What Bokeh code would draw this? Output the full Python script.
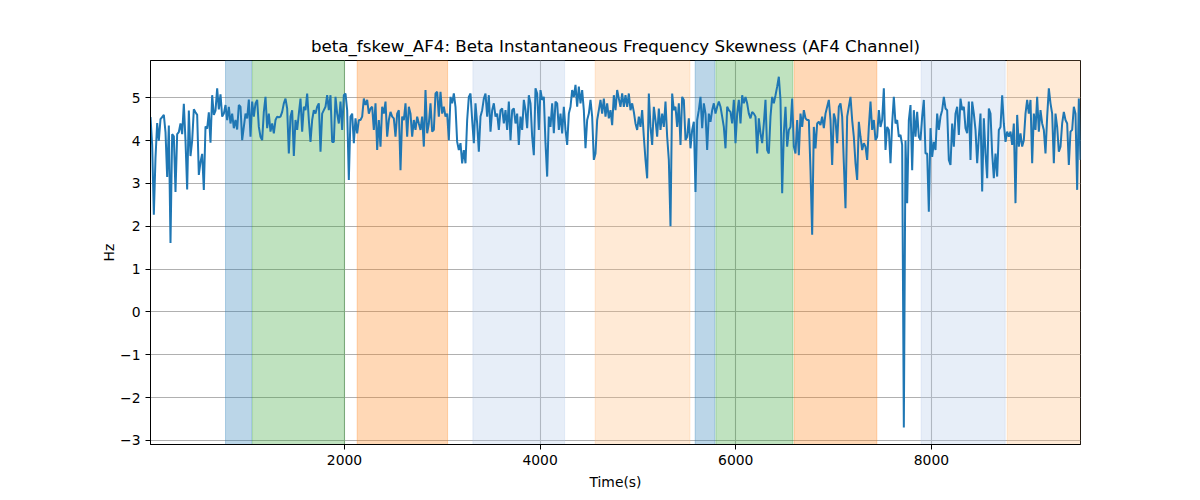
import numpy as np
from bokeh.plotting import figure
from bokeh.models import BoxAnnotation, CustomJSTickFormatter, FixedTicker, Range1d
from bokeh.embed import file_html
from bokeh.resources import INLINE

# valores, por tramos
fskew_a = [4.55, 3.9, 2.27, 3.6, 4.41, 4.0, 4.5, 4.55, 4.6, 4.2, 3.15, 4.35, 1.61, 4.15, 4.1,
           2.8, 4.15, 4.2, 4.4, 4.15, 4.86, 4.0, 2.86, 4.7, 3.64, 4.0, 4.73, 4.66, 4.6, 3.2,
           3.5, 3.69, 2.85, 4.33, 4.28, 4.66, 3.95, 5.06, 4.6, 4.7, 5.22, 4.73, 5.08]
fskew_b = [4.56, 4.63, 4.83, 4.48, 4.79, 4.40, 4.63, 4.29, 4.48, 4.26, 4.83, 4.79, 4.01, 4.32,
           4.63, 4.52, 4.96, 4.09, 4.91, 4.56, 4.87, 4.95, 4.32, 4.09, 4.01, 4.67, 5.02, 4.29,
           4.63, 4.21, 4.4, 4.17, 4.48, 4.56, 4.54, 4.56, 4.67, 4.87, 4.98, 4.75, 3.70, 4.56,
           4.71, 3.64, 4.48, 4.25, 4.63, 4.98, 4.21, 4.79, 4.71, 5.1, 4.48, 3.97, 4.48, 4.71,
           4.63, 4.79, 4.87, 3.74, 4.63, 4.71, 4.79, 5.06, 4.71, 5.06, 3.97, 3.97, 5.02, 4.63,
           4.4, 4.91, 4.25, 5.06, 5.1, 4.71, 3.08, 4.56, 4.63, 3.94, 4.52, 4.17, 4.48, 4.48,
           4.56, 4.98, 4.83, 4.95, 4.63, 4.75, 4.79, 4.25, 4.87, 3.78, 4.48, 3.86, 4.79, 4.63,
           4.91, 4.09, 4.48, 4.67, 4.56, 4.52, 4.09, 4.63, 4.71, 3.31, 4.56, 4.48, 4.87, 4.09,
           4.79, 4.63]
fskew_c = [4.09, 4.48, 4.25, 4.56, 4.40, 4.25, 4.56, 3.86, 5.18, 4.17, 4.40, 4.87, 4.21, 4.25,
           5.1, 5.14, 4.56, 5.14, 4.63, 4.79, 4.56, 4.63, 4.01, 5.02, 4.87, 5.1, 4.79, 3.97,
           3.78, 3.94, 3.47, 3.78, 3.47, 4.48, 5.02, 5.1, 4.48, 3.94, 4.87, 4.40, 3.74, 4.56,
           4.71, 4.98, 5.1, 4.56, 5.06, 4.21, 4.71, 4.87, 4.56, 4.63, 4.25, 4.71, 4.75, 4.40,
           4.71, 4.25, 4.91, 4.01, 4.71, 4.75, 4.40, 4.63, 3.90, 4.56, 4.25, 4.95, 4.71, 4.29,
           5.06, 4.87, 4.09, 3.66, 5.22, 5.1, 4.25, 5.18, 4.95, 5.02, 3.94, 3.16, 4.56, 4.32,
           4.87, 4.17, 4.91, 4.87, 4.25, 4.63, 4.17, 4.79, 4.25, 3.90, 4.63, 4.79, 5.18, 5.02,
           5.3, 4.79, 5.26, 4.87, 5.18, 4.71, 3.82, 4.48, 4.63, 4.95, 4.56, 3.55, 3.70, 4.48,
           4.71]
fskew_d = [4.95, 4.63, 4.98, 4.56, 4.87, 4.52, 4.71, 4.36, 5.06, 4.71, 5.18, 4.98, 4.79, 5.1,
           4.79, 5.06, 4.79, 5.1, 4.71, 4.87, 4.67, 4.4, 4.25, 4.56, 4.32, 4.71, 4.09, 3.55,
           3.12, 5.1, 4.32, 3.90, 4.79, 4.48, 4.09, 4.75, 4.25, 4.63, 4.32, 4.91, 4.09, 3.55,
           2.0, 5.1, 4.71, 4.79, 4.32, 4.87, 3.90, 5.02, 4.95, 4.01, 4.09, 4.52, 3.82, 4.25,
           4.44, 2.8, 4.48, 4.71, 5.02, 4.29, 4.87, 4.63, 3.78, 4.63, 4.44, 4.71, 4.87, 4.63,
           4.79, 4.91, 4.79, 4.56, 4.32, 3.82, 4.79, 4.71, 4.67, 4.4, 4.95, 3.94, 4.63, 4.95,
           4.4, 5.06, 4.87, 5.02, 4.87, 4.63, 4.52, 4.67, 4.63, 4.56, 3.70, 4.52, 4.17, 3.94,
           4.4, 4.95, 3.78, 3.70, 4.56, 5.02, 4.87, 5.06, 5.26, 5.49, 4.95, 2.77, 4.17, 4.79,
           3.86]
fskew_e = [4.25, 4.32, 4.98, 3.86, 3.70, 4.48, 3.66, 4.63, 4.32, 4.71, 4.52, 4.48, 4.48, 3.31,
           1.8, 4.32, 3.82, 4.4, 4.44, 4.36, 4.56, 4.29, 4.63, 4.79, 4.95, 4.48, 3.43, 4.63,
           4.48, 3.94, 4.79, 4.87, 4.56, 3.47, 2.42, 4.56, 4.79, 5.02, 4.48, 4.09, 3.47, 3.08,
           4.44, 4.09, 3.78, 3.94, 3.86, 3.55, 4.32, 4.91, 4.25, 4.48, 4.01, 4.09, 4.71, 4.32,
           4.48, 5.22, 3.78, 4.32, 4.25, 3.47, 4.4, 5.02, 4.4, 4.48, 4.09, 4.13, 3.9, -2.70,
           4.0, 2.54, 4.48, 4.83, 3.31, 4.71, 4.09, 4.67, 4.09, 4.01, 4.56, 4.95, 3.70, 3.70,
           2.34, 4.29, 3.62, 3.97, 3.78, 4.63, 4.25, 4.56, 4.71, 5.02, 4.75, 4.71, 3.55, 3.43,
           4.4, 3.86, 4.63, 4.79, 4.13, 4.98, 4.71, 4.79, 4.29, 4.17, 4.91, 3.55, 4.91, 4.63,
           4.25]
fskew_f = [3.47, 4.09, 4.63, 2.81, 4.52, 3.70, 3.12, 4.75, 4.63, 3.70, 3.12, 3.70, 3.16, 4.25,
           4.32, 5.06, 4.4, 3.97, 4.21, 4.09, 4.21, 3.90, 4.4, 2.54, 4.6, 3.86, 4.17, 3.86,
           4.01, 4.63, 4.95, 4.63, 4.95, 3.47, 4.63, 4.25, 5.02, 4.21, 4.71, 4.4, 4.25, 3.70,
           4.56, 5.22, 4.87, 4.63, 3.47, 4.63, 4.32, 3.74, 3.86, 4.4, 4.67, 4.48, 4.4, 3.43,
           4.21, 4.25, 4.79, 4.63, 2.85, 4.98, 3.55]

fskew = fskew_a + fskew_b + fskew_c + fskew_d + fskew_e + fskew_f
t_inicio, t_fin = 17, 9524
tiempo = np.linspace(t_inicio, t_fin, len(fskew))

# bandas sombreadas
banda_ini = [784, 1060, 2130, 3313, 4563, 5585, 5797, 6597, 7895, 8774]
banda_fin = [1050, 2000, 3054, 4250, 5531, 5786, 6584, 7442, 8754, 9600]
banda_color = ["#1f77b4", "#2ca02c", "#ff7f0e", "#aec7e8", "#ffbb78",
               "#1f77b4", "#2ca02c", "#ff7f0e", "#aec7e8", "#ffbb78"]

xticks = [2000, 4000, 6000, 8000]
yticks = [-3, -2, -1, 0, 1, 2, 3, 4, 5]

p = figure(title="beta_fskew_AF4: Beta Instantaneous Frequency Skewness (AF4 Channel)",
           width=1184, height=492, output_backend="svg", toolbar_location=None,
           x_range=Range1d(t_inicio, t_fin), y_range=Range1d(-3.095, 5.87),
           x_axis_label="Time(s)", y_axis_label="Hz",
           min_border_left=150, min_border_right=104, min_border_top=60, min_border_bottom=47)

for a, b, c in zip(banda_ini, banda_fin, banda_color):
    p.add_layout(BoxAnnotation(left=a, right=b, fill_color=c, fill_alpha=0.3,
                               line_color=c, line_alpha=0.3, line_width=1, level="underlay"))

p.line(tiempo, fskew, line_color="#1f77b4", line_width=2)

p.title.text_font = "DejaVu Sans"
p.title.text_font_size = "16.7px"
p.title.text_font_style = "normal"
p.title.align = "center"
p.title.text_color = "black"

p.xaxis.ticker = FixedTicker(ticks=xticks)
p.yaxis.ticker = FixedTicker(ticks=yticks)
p.yaxis.formatter = CustomJSTickFormatter(code="return tick.toString().replace('-', '\u2212')")
for ax in [p.xaxis, p.yaxis]:
    ax.major_label_text_font = "DejaVu Sans"
    ax.major_label_text_font_size = "13.9px"
    ax.major_label_text_color = "black"
    ax.axis_label_text_font = "DejaVu Sans"
    ax.axis_label_text_font_size = "13.9px"
    ax.axis_label_text_font_style = "normal"
    ax.axis_label_text_color = "black"
    ax.major_tick_out = 5
    ax.major_tick_in = 0
    ax.minor_tick_line_color = None
    ax.major_tick_line_color = "black"
    ax.axis_line_color = "black"
    ax.major_label_standoff = 5
p.xaxis.axis_label_standoff = 6
p.yaxis.axis_label_standoff = 0

p.grid.grid_line_color = "#b0b0b0"
p.grid.grid_line_width = 1.1
p.outline_line_color = "black"
p.outline_line_width = 1
p.outline_line_alpha = 1

open("out.html", "w").write(file_html(p, INLINE))
